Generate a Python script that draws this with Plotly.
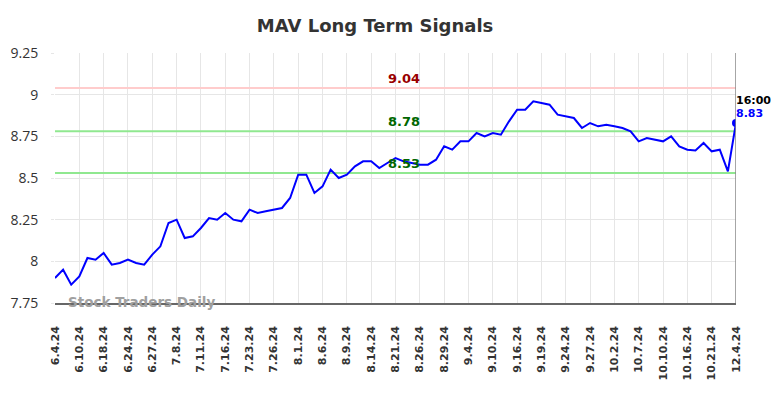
import plotly.graph_objects as go

tick_labels = ["6.4.24", "6.10.24", "6.18.24", "6.24.24", "6.27.24", "7.8.24", "7.11.24",
               "7.16.24", "7.23.24", "7.26.24", "8.1.24", "8.6.24", "8.9.24", "8.14.24",
               "8.21.24", "8.26.24", "8.29.24", "9.4.24", "9.10.24", "9.16.24", "9.19.24",
               "9.24.24", "9.27.24", "10.2.24", "10.7.24", "10.10.24", "10.16.24",
               "10.21.24", "12.4.24"]

prices = [7.90, 7.95, 7.86, 7.91, 8.02, 8.01, 8.05, 7.98, 7.99, 8.01,
          7.99, 7.98, 8.04, 8.09, 8.23, 8.25, 8.14, 8.15, 8.20, 8.26,
          8.25, 8.29, 8.25, 8.24, 8.31, 8.29, 8.30, 8.31, 8.32, 8.38,
          8.52, 8.52, 8.41, 8.45, 8.55, 8.50, 8.52, 8.57, 8.60, 8.60,
          8.56, 8.59, 8.62, 8.60, 8.59, 8.58, 8.58, 8.61, 8.69, 8.67,
          8.72, 8.72, 8.77, 8.75, 8.77, 8.76, 8.84, 8.91, 8.91, 8.96,
          8.95, 8.94, 8.88, 8.87, 8.86, 8.80, 8.83, 8.81, 8.82, 8.81,
          8.80, 8.78, 8.72, 8.74, 8.73, 8.72, 8.75, 8.69, 8.67, 8.665,
          8.71, 8.66, 8.67, 8.54, 8.83]

resistance = 9.04
support_hi = 8.78
support_lo = 8.53
last_time = "16:00"
y_ticks = [7.75, 8, 8.25, 8.5, 8.75, 9, 9.25]
y_tick_text = ["7.75", "8", "8.25", "8.5", "8.75", "9", "9.25"]

x = list(range(len(prices)))
tick_step = 3
tickvals = x[::tick_step]

fig = go.Figure()

for lvl, col in [(resistance, "#ffcccc"), (support_hi, "#90e890"), (support_lo, "#90e890")]:
    fig.add_trace(go.Scatter(x=[x[0], x[-1]], y=[lvl, lvl], mode="lines",
                             line=dict(color=col, width=2), hoverinfo="skip",
                             showlegend=False))

fig.add_trace(go.Scatter(x=x, y=prices, mode="lines",
                         line=dict(color="#0000ff", width=2), showlegend=False))
fig.add_trace(go.Scatter(x=[x[-1]], y=[prices[-1]], mode="markers",
                         marker=dict(color="#0000ff", size=8), showlegend=False))

lab_x = x[len(x) // 2 + 1]
bold = "DejaVu Sans"
for lvl, col in [(resistance, "#990000"), (support_hi, "#006600"), (support_lo, "#006600")]:
    fig.add_annotation(x=lab_x, y=lvl, text=f"<b>{lvl:.2f}</b>", showarrow=False,
                       yanchor="bottom", yshift=0, font=dict(family=bold, size=13, color=col))

fig.add_annotation(x=x[-1], y=prices[-1], text=f"<b>{last_time}</b>", showarrow=False,
                   xanchor="left", yanchor="bottom", xshift=-2, yshift=14,
                   font=dict(family=bold, size=11, color="#000000"))
fig.add_annotation(x=x[-1], y=prices[-1], text=f"<b>{prices[-1]:.2f}</b>", showarrow=False,
                   xanchor="left", yanchor="bottom", xshift=-2, yshift=1,
                   font=dict(family=bold, size=11, color="#0000ff"))

fig.add_annotation(xref="paper", yref="paper", x=0.016, y=0.0, text="<b>Stock Traders Daily</b>",
                   showarrow=False, xanchor="left", yanchor="middle", yshift=1,
                   font=dict(family=bold, size=13.5, color="#a0a0a0"))

fig.update_layout(
    width=768, height=382,
    margin=dict(l=47, r=40, t=45, b=87),
    paper_bgcolor="white", plot_bgcolor="white",
    title=dict(text="<b>MAV Long Term Signals</b>", x=0.478, xanchor="center", y=0.953,
               yanchor="middle", font=dict(family=bold, size=18, color="#333333")),
    xaxis=dict(range=[x[0], x[-1]], tickvals=tickvals,
               ticktext=[f"<b>{t}</b>" for t in tick_labels],
               tickangle=-90, showgrid=True, gridcolor="#e6e6e6", gridwidth=1,
               tickfont=dict(family=bold, size=11, color="#333333"),
               showline=True, linecolor="#666666", linewidth=1.5, mirror=False,
               ticks="outside", ticklen=17, tickcolor="rgba(0,0,0,0)", zeroline=False,
               automargin=False),
    yaxis=dict(range=[7.75, 9.25], tickvals=y_ticks, ticktext=y_tick_text,
               showgrid=True, gridcolor="#e6e6e6", gridwidth=1,
               tickfont=dict(family="Open Sans", size=14, color="#333333"),
               ticks="outside", ticklen=3, tickcolor="#e6e6e6", ticklabelstandoff=10,
               zeroline=False, showline=False, automargin=False),
    font=dict(family="DejaVu Sans"),
)

fig.add_shape(type="line", xref="x", yref="paper", x0=x[-1], x1=x[-1], y0=0, y1=1,
              line=dict(color="#888888", width=1.5))

fig.write_html("out.html")
